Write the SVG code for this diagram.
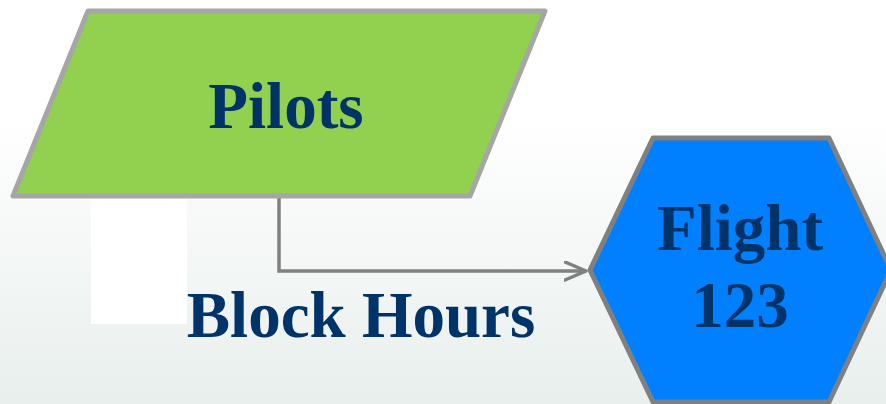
<svg xmlns="http://www.w3.org/2000/svg" width="886" height="404" viewBox="0 0 886 404">
  <defs>
    <linearGradient id="bg" x1="0" y1="0" x2="0" y2="1">
      <stop offset="0" stop-color="#ffffff"/>
      <stop offset="0.3" stop-color="#ffffff"/>
      <stop offset="1" stop-color="#e8efed"/>
    </linearGradient>
    <marker id="arrow" markerWidth="30" markerHeight="24" refX="22" refY="10" orient="auto" markerUnits="userSpaceOnUse">
      <path d="M1,1 L22,10 L1,19" fill="none" stroke="#808080" stroke-width="3.5" stroke-linecap="round" stroke-linejoin="round"/>
    </marker>
  </defs>
  <style>
    .lbl { font-family: "Liberation Serif", "Times New Roman", serif; font-weight: bold; font-size: 65px; fill: #003468; text-anchor: middle; }
    .conn { fill: none; stroke: #808080; stroke-width: 3.5; }
  </style>
  <rect x="0" y="0" width="886" height="404" fill="url(#bg)"/>
  <rect x="91" y="199" width="96" height="125" fill="#ffffff"/>
  <g id="connectors">
    <path class="conn" d="M279,196 L279,271 L586,271" marker-end="url(#arrow)"/>
  </g>
  <g id="pilots">
    <polygon points="88,11 545,11 470,196 13,196" fill="#92d050" stroke="#a6a6a6" stroke-width="5" stroke-linejoin="round"/>
    <text class="lbl" x="286" y="128">Pilots</text>
  </g>
  <g id="flight">
    <polygon points="653,138 829,138 891,270 829,402 653,402 590,270" fill="#0080ff" stroke="#808080" stroke-width="5" stroke-linejoin="round"/>
    <text class="lbl" x="740" y="250">Flight</text>
    <text class="lbl" x="740" y="327">123</text>
  </g>
  <g id="label-block-hours">
    <text class="lbl" x="361" y="337">Block Hours</text>
  </g>
</svg>
